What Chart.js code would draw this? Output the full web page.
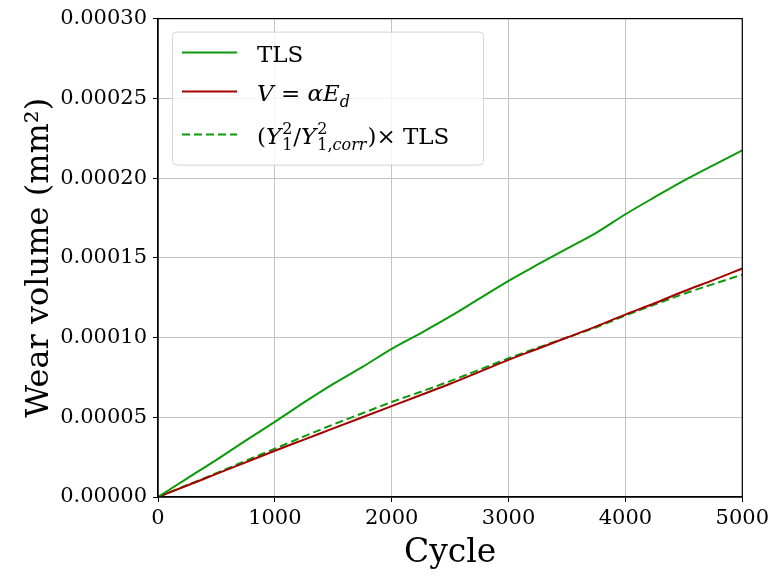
<!DOCTYPE html>
<html>
<head>
<meta charset="utf-8">
<script src="https://cdn.jsdelivr.net/npm/chart.js@4.4.1/dist/chart.umd.min.js"></script>
<style>
  html, body { margin: 0; padding: 0; background: #fff; }
  canvas { display: block; }
</style>
</head>
<body>
<canvas id="chart" width="773" height="579"></canvas>
<script>
// values
const cycles = [0, 250, 500, 750, 1000, 1250, 1500, 1750, 2000, 2250, 2500,
                2750, 3000, 3250, 3500, 3750, 4000, 4250, 4500, 4750, 5000];
const tls = [0, 1.17e-5, 2.33e-5, 3.54e-5, 4.71e-5, 5.93e-5, 7.09e-5, 8.16e-5, 9.29e-5, 1.028e-4, 1.132e-4,
             1.244e-4, 1.356e-4, 1.458e-4, 1.558e-4, 1.657e-4, 1.773e-4, 1.88e-4, 1.984e-4, 2.08e-4, 2.173e-4];
const energyModel = [0, 0.72e-5, 1.45e-5, 2.17e-5, 2.9e-5, 3.6e-5, 4.3e-5, 5.0e-5, 5.7e-5, 6.4e-5, 7.1e-5,
                     7.85e-5, 8.6e-5, 9.3e-5, 1.0e-4, 1.07e-4, 1.144e-4, 1.215e-4, 1.29e-4, 1.36e-4, 1.433e-4];
const tlsCorrected = [0, 0.75e-5, 1.5e-5, 2.27e-5, 3.03e-5, 3.8e-5, 4.55e-5, 5.25e-5, 5.96e-5, 6.6e-5, 7.27e-5,
                      7.98e-5, 8.7e-5, 9.36e-5, 1.0e-4, 1.064e-4, 1.138e-4, 1.207e-4, 1.274e-4, 1.335e-4, 1.394e-4];
const xTicks = [0, 1000, 2000, 3000, 4000, 5000];
const yTicks = [0, 0.00005, 0.0001, 0.00015, 0.0002, 0.00025, 0.0003];

const GREEN = '#0a9a0a';
const RED = '#a50000';
const FONT = "'DejaVu Serif', serif";

Chart.defaults.font.family = FONT;
Chart.defaults.color = '#000';

const pts = vals => cycles.map((c, i) => ({x: c, y: vals[i]}));

function fontStr(size, italic) {
  return (italic ? 'italic ' : '') + size + 'px ' + FONT;
}

// draws a line of text with italics, sub- and superscripts
function drawRich(ctx, runs, x, y, size) {
  const small = Math.round(size * 0.68);
  runs.forEach(r => {
    if (r.stack) {
      ctx.font = fontStr(small, false);
      ctx.fillText(r.stack[0], x + 1, y - size * 0.42);
      const w1 = ctx.measureText(r.stack[0]).width;
      let sx = x + 1;
      r.stack[1].forEach(s => {
        ctx.font = fontStr(small, s.i);
        ctx.fillText(s.t, sx, y + size * 0.28);
        sx += ctx.measureText(s.t).width;
      });
      x = Math.max(x + 1 + w1, sx) + 1;
    } else {
      const sz = r.sub ? small : size;
      ctx.font = fontStr(sz, r.i);
      ctx.fillText(r.t, x, y + (r.sub ? size * 0.28 : 0));
      x += ctx.measureText(r.t).width;
    }
  });
}

const legendRows = [
  [{t: 'TLS'}],
  [{t: 'V', i: true}, {t: ' = '}, {t: 'α', i: true}, {t: 'E', i: true}, {t: 'd', i: true, sub: true}],
  [{t: '('}, {t: 'Y', i: true}, {stack: ['2', [{t: '1'}]]}, {t: '/'}, {t: 'Y', i: true},
   {stack: ['2', [{t: '1,'}, {t: 'corr', i: true}]]}, {t: ')'}, {t: '×'}, {t: ' TLS'}]
];

const framePlugin = {
  id: 'frame',
  afterDatasetsDraw(chart) {
    const {ctx, chartArea: a} = chart;
    ctx.save();
    ctx.strokeStyle = '#000';
    ctx.lineWidth = 1.2;
    ctx.strokeRect(a.left, a.top, a.right - a.left, a.bottom - a.top);
    ctx.restore();
  }
};

const mathLegend = {
  id: 'mathLegend',
  afterDraw(chart) {
    const {ctx, chartArea: a} = chart;
    const ds = chart.data.datasets;
    const bx = a.left + 14, by = a.top + 13, bw = 311, bh = 133;
    ctx.save();
    ctx.beginPath();
    ctx.roundRect(bx + 0.5, by + 0.5, bw, bh, 4);
    ctx.fillStyle = 'rgba(255,255,255,0.8)';
    ctx.fill();
    ctx.strokeStyle = '#d4d4d4';
    ctx.lineWidth = 1;
    ctx.stroke();
    const rowY = [by + 21, by + 60, by + 103];
    ds.forEach((d, i) => {
      ctx.beginPath();
      ctx.strokeStyle = d.borderColor;
      ctx.lineWidth = d.borderWidth;
      ctx.setLineDash(d.borderDash || []);
      ctx.moveTo(bx + 10, rowY[i]);
      ctx.lineTo(bx + 65, rowY[i]);
      ctx.stroke();
      ctx.setLineDash([]);
      ctx.fillStyle = '#000';
      ctx.textBaseline = 'alphabetic';
      ctx.textAlign = 'left';
      drawRich(ctx, legendRows[i], bx + 85, rowY[i] + 9, 23);
    });
    ctx.restore();
  }
};

new Chart(document.getElementById('chart'), {
  type: 'line',
  data: {
    datasets: [
      {label: 'TLS', data: pts(tls), borderColor: GREEN, borderWidth: 2},
      {label: 'V = αE_d', data: pts(energyModel), borderColor: RED, borderWidth: 2},
      {label: '(Y1^2/Y1,corr^2) x TLS', data: pts(tlsCorrected), borderColor: GREEN,
       borderWidth: 2, borderDash: [8, 4]}
    ]
  },
  options: {
    responsive: false,
    animation: false,
    devicePixelRatio: 1,
    layout: {padding: {top: 17, right: 28, left: 0, bottom: 0}},
    elements: {
      point: {radius: 0},
      line: {cubicInterpolationMode: 'monotone', fill: false}
    },
    plugins: {legend: {display: false}, tooltip: {enabled: false}},
    scales: {
      x: {
        type: 'linear',
        min: 0, max: 5000,
        afterBuildTicks: s => { s.ticks = xTicks.map(v => ({value: v})); },
        afterFit: s => { s.height = 82; },
        ticks: {font: {size: 21}, padding: 4, maxRotation: 0, callback: v => String(v)},
        grid: {color: '#c4c4c4', lineWidth: 1, tickLength: 5, tickColor: '#000'},
        border: {color: '#000', width: 1.2},
        title: {display: true, text: 'Cycle', font: {size: 33}, padding: {top: 0, bottom: 6}}
      },
      y: {
        min: 0, max: 0.0003,
        afterBuildTicks: s => { s.ticks = yTicks.map(v => ({value: v})); },
        afterFit: s => { s.width = 158; },
        ticks: {font: {size: 21}, padding: 6, callback: v => v.toFixed(5)},
        grid: {color: '#c4c4c4', lineWidth: 1, tickLength: 5, tickColor: '#000'},
        border: {color: '#000', width: 1.2},
        title: {display: true, text: 'Wear volume (mm²)', font: {size: 32}, padding: {top: 20, bottom: 0}}
      }
    }
  },
  plugins: [framePlugin, mathLegend]
});
</script>
</body>
</html>
